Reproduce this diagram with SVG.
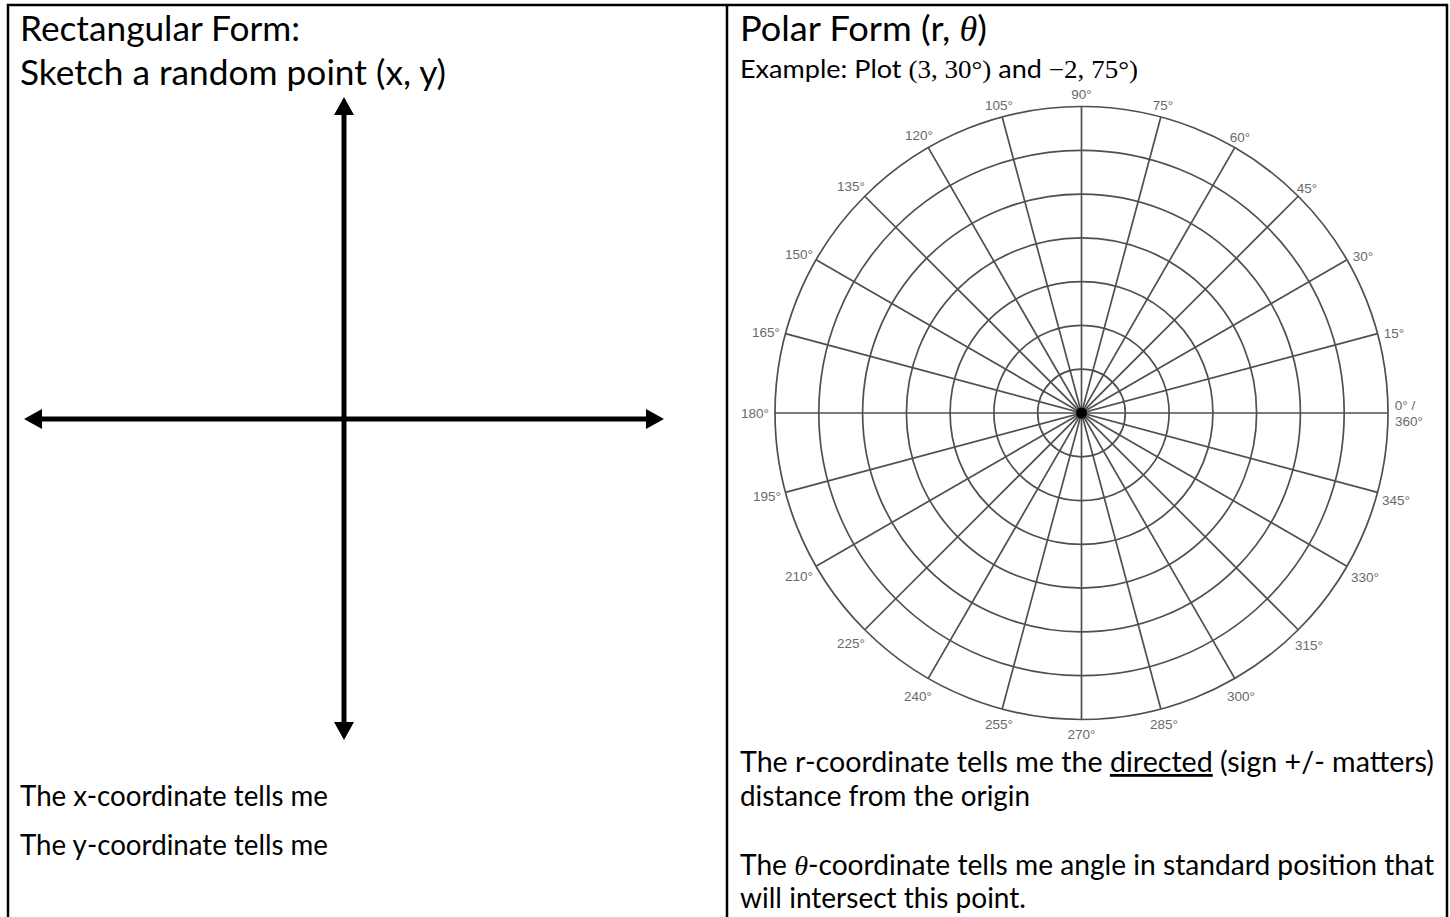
<svg xmlns="http://www.w3.org/2000/svg" width="1450" height="917" viewBox="0 0 1450 917">
<style>
.frame{fill:none;stroke:#000;stroke-width:2.5}
.title{font-family:Lato,"Liberation Sans",sans-serif;font-size:35px;fill:#000}
.body{font-family:Lato,"Liberation Sans",sans-serif;font-size:28px;fill:#000}
.math{font-family:"Liberation Serif","DejaVu Serif",serif}
.axis{stroke:#000;stroke-width:5;fill:none}
.grid{stroke:#4f4f4f;stroke-width:1.7;fill:none}
.lbl{font-family:"Liberation Sans",Arial,sans-serif;font-size:13.5px;fill:#6a6a6a;text-anchor:middle}
</style>
<defs>
<marker id="ah" viewBox="0 0 18 20" refX="2" refY="10" markerWidth="18" markerHeight="20" markerUnits="userSpaceOnUse" orient="auto-start-reverse">
<path d="M0,0 L18,10 L0,20 Z" fill="#000"/>
</marker>
</defs>
<rect width="1450" height="917" fill="#fff"/>
<g id="frame">
<rect class="frame" x="8" y="5" width="1439" height="920"/>
<line class="frame" x1="727" y1="5" x2="727" y2="917"/>
</g>
<g id="left-texts">
<text class="title" x="20" y="41" textLength="280" lengthAdjust="spacingAndGlyphs">Rectangular Form:</text>
<text class="title" x="20" y="85" textLength="426" lengthAdjust="spacingAndGlyphs">Sketch a random point (x, y)</text>
<text class="body" x="20" y="806" textLength="308" lengthAdjust="spacingAndGlyphs">The x-coordinate tells me</text>
<text class="body" x="20" y="855" textLength="308" lengthAdjust="spacingAndGlyphs">The y-coordinate tells me</text>
</g>
<g id="connectors">
<line class="axis" x1="344" y1="113" x2="344" y2="724" marker-start="url(#ah)" marker-end="url(#ah)"/>
<line class="axis" x1="40" y1="419" x2="648" y2="419" marker-start="url(#ah)" marker-end="url(#ah)"/>
</g>
<g id="right-texts">
<text class="title" x="740" y="41" textLength="247" lengthAdjust="spacingAndGlyphs">Polar Form (r, <tspan class="math" font-style="italic">θ</tspan>)</text>
<text class="body" x="740" y="78" style="font-size:25px" textLength="398" lengthAdjust="spacingAndGlyphs">Example: Plot <tspan class="math">(3, 30°)</tspan> and <tspan class="math">−2, 75°)</tspan></text>
<text class="body" x="740" y="772" textLength="694" lengthAdjust="spacingAndGlyphs">The r-coordinate tells me the <tspan text-decoration="underline">directed</tspan> (sign +/- matters)</text>
<text class="body" x="740" y="806" textLength="290" lengthAdjust="spacingAndGlyphs">distance from the origin</text>
<text class="body" x="740" y="875" textLength="694" lengthAdjust="spacingAndGlyphs">The <tspan class="math" font-style="italic">θ</tspan>-coordinate tells me angle in standard position that</text>
<text class="body" x="740" y="908" textLength="286" lengthAdjust="spacingAndGlyphs">will intersect this point.</text>
</g>
<g id="polar-grid">
<circle class="grid" cx="1081.5" cy="413" r="43.8"/>
<circle class="grid" cx="1081.5" cy="413" r="87.6"/>
<circle class="grid" cx="1081.5" cy="413" r="131.4"/>
<circle class="grid" cx="1081.5" cy="413" r="175.1"/>
<circle class="grid" cx="1081.5" cy="413" r="218.9"/>
<circle class="grid" cx="1081.5" cy="413" r="262.7"/>
<circle class="grid" cx="1081.5" cy="413" r="306.5"/>
<g transform="translate(1081.5 413)">
<line class="grid" x1="-306.5" y1="0" x2="306.5" y2="0"/>
<line class="grid" x1="-306.5" y1="0" x2="306.5" y2="0" transform="rotate(15)"/>
<line class="grid" x1="-306.5" y1="0" x2="306.5" y2="0" transform="rotate(30)"/>
<line class="grid" x1="-306.5" y1="0" x2="306.5" y2="0" transform="rotate(45)"/>
<line class="grid" x1="-306.5" y1="0" x2="306.5" y2="0" transform="rotate(60)"/>
<line class="grid" x1="-306.5" y1="0" x2="306.5" y2="0" transform="rotate(75)"/>
<line class="grid" x1="-306.5" y1="0" x2="306.5" y2="0" transform="rotate(90)"/>
<line class="grid" x1="-306.5" y1="0" x2="306.5" y2="0" transform="rotate(105)"/>
<line class="grid" x1="-306.5" y1="0" x2="306.5" y2="0" transform="rotate(120)"/>
<line class="grid" x1="-306.5" y1="0" x2="306.5" y2="0" transform="rotate(135)"/>
<line class="grid" x1="-306.5" y1="0" x2="306.5" y2="0" transform="rotate(150)"/>
<line class="grid" x1="-306.5" y1="0" x2="306.5" y2="0" transform="rotate(165)"/>
<circle cx="0" cy="0" r="5.5" fill="#000"/>
</g>
<g id="polar-labels">
<text class="lbl" x="1081.5" y="99">90°</text>
<text class="lbl" x="1163" y="110">75°</text>
<text class="lbl" x="1240" y="142">60°</text>
<text class="lbl" x="1307" y="193">45°</text>
<text class="lbl" x="1363" y="261">30°</text>
<text class="lbl" x="1394" y="338">15°</text>
<text class="lbl" x="1405" y="410">0° /</text>
<text class="lbl" x="1409" y="426">360°</text>
<text class="lbl" x="1396" y="505">345°</text>
<text class="lbl" x="1365" y="582">330°</text>
<text class="lbl" x="1309" y="650">315°</text>
<text class="lbl" x="1241" y="701">300°</text>
<text class="lbl" x="1164" y="729">285°</text>
<text class="lbl" x="1081.5" y="739">270°</text>
<text class="lbl" x="999" y="729">255°</text>
<text class="lbl" x="918" y="701">240°</text>
<text class="lbl" x="851" y="648">225°</text>
<text class="lbl" x="799" y="581">210°</text>
<text class="lbl" x="767" y="501">195°</text>
<text class="lbl" x="755" y="418">180°</text>
<text class="lbl" x="766" y="337">165°</text>
<text class="lbl" x="799" y="259">150°</text>
<text class="lbl" x="851" y="191">135°</text>
<text class="lbl" x="919" y="140">120°</text>
<text class="lbl" x="999" y="110">105°</text>
</g>
</g>
</svg>
